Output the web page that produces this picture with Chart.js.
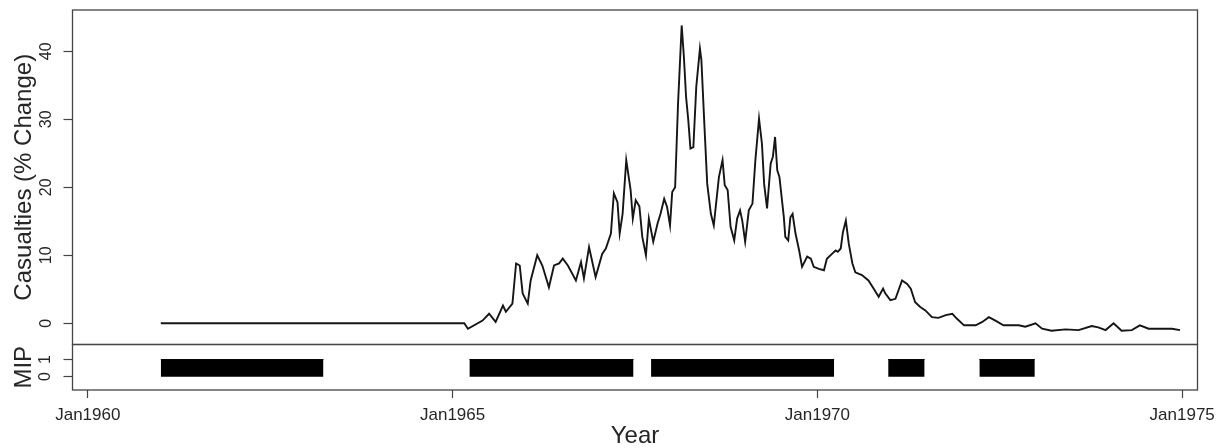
<!DOCTYPE html>
<html>
<head>
<meta charset="utf-8">
<script src="https://cdn.jsdelivr.net/npm/chart.js@4.4.0/dist/chart.umd.min.js"></script>
<style>
html, body { margin: 0; padding: 0; background: #fff; overflow: hidden; }
#wrap { position: relative; width: 1217px; height: 448px; }
#top { position: absolute; left: 0; top: 0; }
#bot { position: absolute; left: 0; top: 340px; }
</style>
</head>
<body>
<div id="wrap">
  <canvas id="top" width="1217" height="350"></canvas>
  <canvas id="bot" width="1217" height="108"></canvas>
</div>
<script>
// casualties series (decimal year, % change)
const years = [
  1961.00, 1965.16, 1965.21, 1965.41, 1965.50, 1965.59, 1965.69, 1965.73, 1965.82, 1965.87,
  1965.92, 1965.96, 1966.03, 1966.07, 1966.16, 1966.23, 1966.32, 1966.39, 1966.46, 1966.51,
  1966.58, 1966.69, 1966.76, 1966.80, 1966.87, 1966.96, 1967.05, 1967.10, 1967.17, 1967.21,
  1967.26, 1967.29, 1967.33, 1967.38, 1967.44, 1967.47, 1967.51, 1967.56, 1967.60, 1967.65,
  1967.69, 1967.75, 1967.81, 1967.85, 1967.90, 1967.94, 1967.98, 1968.01, 1968.05, 1968.09,
  1968.14, 1968.17, 1968.20, 1968.23, 1968.26, 1968.30, 1968.34, 1968.39, 1968.41, 1968.45,
  1968.49, 1968.54, 1968.58, 1968.65, 1968.70, 1968.73, 1968.77, 1968.81, 1968.86, 1968.90,
  1968.94, 1968.97, 1969.01, 1969.06, 1969.11, 1969.15, 1969.20, 1969.24, 1969.27, 1969.31,
  1969.36, 1969.39, 1969.42, 1969.45, 1969.48, 1969.54, 1969.56, 1969.60, 1969.63, 1969.66,
  1969.70, 1969.75, 1969.79, 1969.86, 1969.91, 1969.95, 1970.02, 1970.09, 1970.13, 1970.20,
  1970.25, 1970.28, 1970.32, 1970.35, 1970.39, 1970.43, 1970.48, 1970.52, 1970.61, 1970.70,
  1970.77, 1970.84, 1970.90, 1970.93, 1971.00, 1971.07, 1971.16, 1971.23, 1971.28, 1971.34,
  1971.41, 1971.48, 1971.57, 1971.66, 1971.76, 1971.85, 1971.91, 1972.01, 1972.17, 1972.26,
  1972.35, 1972.44, 1972.55, 1972.62, 1972.76, 1972.85, 1972.99, 1973.08, 1973.21, 1973.40,
  1973.58, 1973.76, 1973.85, 1973.95, 1974.06, 1974.17, 1974.31, 1974.42, 1974.54, 1974.72,
  1974.86, 1974.97
];
const casualties = [
  0, 0, -0.8, 0.4, 1.4, 0.2, 2.6, 1.7, 2.9, 8.8,
  8.5, 4.4, 2.9, 6.3, 10.0, 8.5, 5.3, 8.5, 8.8, 9.5,
  8.5, 6.3, 9.0, 6.6, 11.2, 6.8, 10.2, 11.0, 13.2, 19.1,
  17.8, 13.2, 16.1, 24.0, 19.6, 15.4, 18.1, 17.2, 12.7, 10.0,
  15.4, 12.0, 14.7, 16.1, 18.3, 17.1, 14.4, 19.3, 20.0, 32.3,
  43.8, 39.2, 33.3, 29.9, 25.7, 25.9, 34.8, 40.4, 38.7, 29.4,
  20.5, 16.1, 14.4, 21.5, 24.0, 20.3, 19.6, 14.2, 12.2, 15.4,
  16.6, 15.1, 12.0, 16.6, 17.6, 24.0, 30.1, 26.4, 20.5, 16.9,
  23.5, 24.5, 27.4, 22.5, 21.5, 15.6, 12.7, 12.2, 15.6, 16.1,
  13.2, 10.7, 8.3, 9.8, 9.5, 8.3, 8.0, 7.8, 9.5, 10.2,
  10.7, 10.5, 11.0, 13.4, 15.1, 11.7, 8.8, 7.5, 7.1, 6.3,
  5.1, 3.9, 5.1, 4.4, 3.4, 3.6, 6.3, 5.8, 5.1, 3.1,
  2.4, 1.9, 0.9, 0.8, 1.2, 1.4, 0.7, -0.3, -0.3, 0.2,
  0.9, 0.4, -0.3, -0.3, -0.3, -0.5, 0.0, -0.8, -1.1, -0.9,
  -1.0, -0.4, -0.6, -1.0, 0.0, -1.1, -1.0, -0.3, -0.8, -0.8,
  -0.8, -1.0
];

// MIP periods (value 1 between start and end)
const mipStart = [1961.00, 1965.23, 1967.72, 1970.97, 1972.22];
const mipEnd   = [1963.23, 1967.48, 1970.23, 1971.47, 1972.98];

// ticks
const casualtyTicks = [0, 10, 20, 30, 40];
const mipTicks = [0, 1];
const yearTicks = [1960, 1965, 1970, 1975];
const yearTickLabels = ['Jan1960', 'Jan1965', 'Jan1970', 'Jan1975'];

const FONT = 'Liberation Sans, Arial, sans-serif';
const TEXT = '#262626';
const AXIS = '#444';
const X_MIN = 1959.79, X_MAX = 1975.21;

// box around the plot region, like R's box()
const boxPlugin = {
  id: 'box',
  afterDraw(chart) {
    const a = chart.chartArea;
    const ctx = chart.ctx;
    ctx.save();
    ctx.strokeStyle = AXIS;
    ctx.lineWidth = 1.3;
    ctx.strokeRect(a.left, a.top, a.right - a.left, a.bottom - a.top);
    ctx.restore();
  }
};

function leftAxis(min, max, tickValues, title, tickPad) {
  return {
    type: 'linear',
    min: min,
    max: max,
    afterBuildTicks: s => { s.ticks = tickValues.map(v => ({ value: v })); },
    afterFit: s => { s.width = 72.5; s.paddingTop = 0; s.paddingBottom = 0; },
    grid: { drawOnChartArea: false, drawTicks: true, tickLength: 9, tickColor: AXIS, tickWidth: 1.2 },
    border: { display: false },
    ticks: {
      minRotation: 90, maxRotation: 90, crossAlign: 'center', padding: tickPad,
      color: TEXT, font: { family: FONT, size: 16 }
    },
    title: {
      display: true, text: title, color: TEXT,
      font: { family: FONT, size: 24, lineHeight: 1 },
      padding: { top: 12, bottom: 0 }
    }
  };
}

new Chart(document.getElementById('top'), {
  type: 'line',
  data: {
    datasets: [{
      data: years.map((x, i) => ({ x: x, y: casualties[i] })),
      borderColor: '#151515',
      borderWidth: 1.9,
      pointRadius: 0,
      tension: 0,
      fill: false
    }]
  },
  options: {
    responsive: false,
    animation: false,
    devicePixelRatio: 1,
    layout: { padding: { top: 10, right: 19.5, bottom: 5.5, left: 0 } },
    plugins: { legend: { display: false }, tooltip: { enabled: false } },
    scales: {
      x: { type: 'linear', min: X_MIN, max: X_MAX, display: false },
      y: leftAxis(-3.12, 46.07, casualtyTicks, 'Casualties (% Change)', 8)
    }
  },
  plugins: [boxPlugin]
});

new Chart(document.getElementById('bot'), {
  type: 'line',
  data: {
    datasets: mipStart.map((s, i) => ({
      data: [{ x: s, y: 1 }, { x: mipEnd[i], y: 1 }],
      borderColor: '#000',
      backgroundColor: '#000',
      borderWidth: 1,
      pointRadius: 0,
      fill: 'origin'
    }))
  },
  options: {
    responsive: false,
    animation: false,
    devicePixelRatio: 1,
    layout: { padding: { top: 4.5, right: 19.5, bottom: 0, left: 0 } },
    plugins: { legend: { display: false }, tooltip: { enabled: false } },
    scales: {
      x: {
        type: 'linear',
        min: X_MIN,
        max: X_MAX,
        afterBuildTicks: s => { s.ticks = yearTicks.map(v => ({ value: v })); },
        afterFit: s => { s.height = 58; s.paddingLeft = 0; s.paddingRight = 0; },
        grid: { drawOnChartArea: false, drawTicks: true, tickLength: 8, tickColor: AXIS, tickWidth: 1.2 },
        border: { display: false },
        ticks: {
          autoSkip: false, maxRotation: 0, padding: 7,
          color: TEXT, font: { family: FONT, size: 17 },
          callback: (v, i) => yearTickLabels[i]
        },
        title: {
          display: true, text: 'Year', color: TEXT,
          font: { family: FONT, size: 24, lineHeight: 1 },
          padding: 0
        }
      },
      y: leftAxis(-0.78, 1.88, mipTicks, 'MIP', 13)
    }
  },
  plugins: [boxPlugin]
});
</script>
</body>
</html>
